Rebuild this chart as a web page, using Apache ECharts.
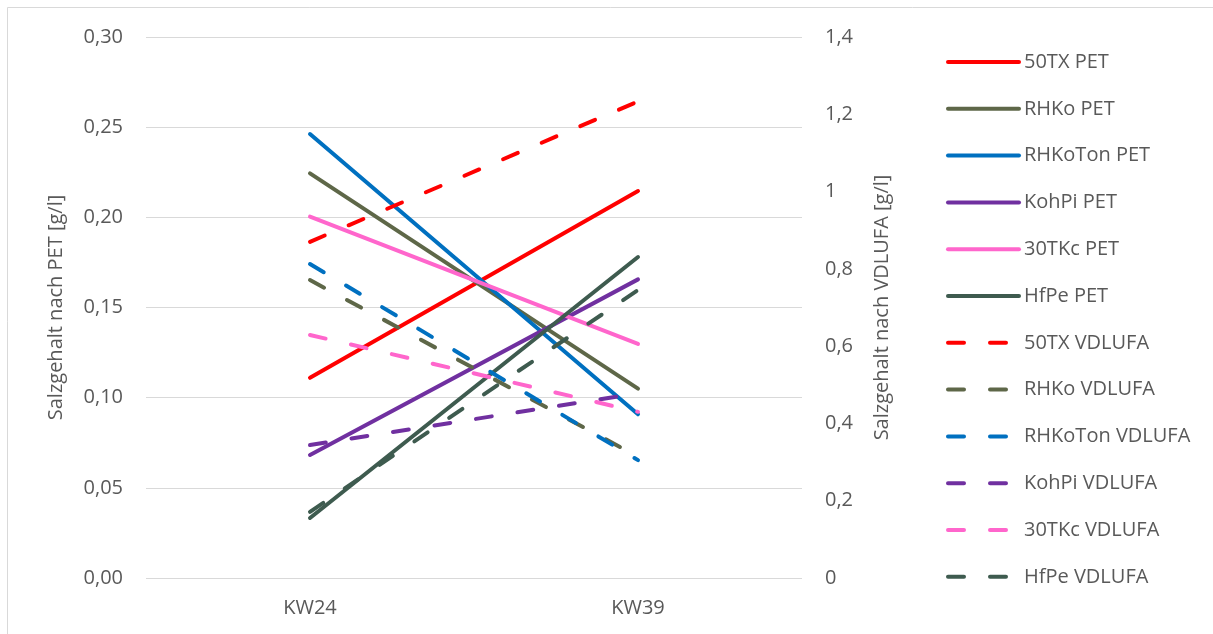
<!DOCTYPE html>
<html>
<head>
<meta charset="utf-8">
<script src="https://cdn.jsdelivr.net/npm/echarts@6/dist/echarts.min.js"></script>
<style>
html,body{margin:0;padding:0;background:#fff;}
#chart{width:1213px;height:634px;}
</style>
</head>
<body>
<div id="chart"></div>
<script>
var categories = ['KW24', 'KW39'];

var seriesNames = ['50TX PET', 'RHKo PET', 'RHKoTon PET', 'KohPi PET', '30TKc PET', 'HfPe PET',
  '50TX VDLUFA', 'RHKo VDLUFA', 'RHKoTon VDLUFA', 'KohPi VDLUFA', '30TKc VDLUFA', 'HfPe VDLUFA'];

// PET values (left axis, g/l)
var tx50PET = [0.111, 0.2146];
var rhkoPET = [0.2244, 0.105];
var rhkoTonPET = [0.2462, 0.0908];
var kohPiPET = [0.0682, 0.1656];
var tkc30PET = [0.2004, 0.1298];
var hfPePET = [0.0333, 0.178];

// VDLUFA values (right axis, g/l)
var tx50VDLUFA = [0.870, 1.233];
var rhkoVDLUFA = [0.771, 0.314];
var rhkoTonVDLUFA = [0.8126, 0.305];
var kohPiVDLUFA = [0.344, 0.478];
var tkc30VDLUFA = [0.629, 0.430];
var hfPeVDLUFA = [0.171, 0.745];

var colors = ['#FF0000', '#5E6748', '#0070C0', '#7030A0', '#FF66CC', '#3E5B4F'];

var allData = [tx50PET, rhkoPET, rhkoTonPET, kohPiPET, tkc30PET, hfPePET,
  tx50VDLUFA, rhkoVDLUFA, rhkoTonVDLUFA, kohPiVDLUFA, tkc30VDLUFA, hfPeVDLUFA];

var FONT = '"Open Sans", "Noto Sans", sans-serif';
var TXT = '#595959';

var series = allData.map(function (d, i) {
  var dashed = i >= 6;
  return {
    name: seriesNames[i],
    type: 'line',
    yAxisIndex: dashed ? 1 : 0,
    data: d,
    symbol: 'none',
    showSymbol: false,
    animation: false,
    lineStyle: {
      color: colors[i % 6],
      width: 4,
      cap: 'round',
      join: 'round',
      type: dashed ? [16, 26] : 'solid'
    },
    itemStyle: { color: colors[i % 6] }
  };
});

var chart = echarts.init(document.getElementById('chart'), null, { renderer: 'canvas' });
chart.setOption({
  animation: false,
  backgroundColor: '#ffffff',
  textStyle: { fontFamily: FONT },
  graphic: [{
    type: 'rect',
    shape: { x: 7.5, y: 7.5, width: 1400, height: 800 },
    style: { fill: 'none', stroke: '#D9D9D9', lineWidth: 1 },
    silent: true
  }],
  grid: { left: 146, right: 411, top: 37, bottom: 56 },
  legend: {
    orient: 'vertical',
    left: 946,
    top: 52,
    padding: 0,
    itemWidth: 71,
    itemHeight: 24,
    itemGap: 26.8,
    data: seriesNames,
    itemStyle: { opacity: 0 },
    lineStyle: { width: 4, cap: 'round' },
    textStyle: { fontFamily: FONT, fontSize: 20, color: TXT, padding: [0, 0, 0, 0] },
    selectedMode: false
  },
  xAxis: {
    type: 'category',
    data: categories,
    boundaryGap: true,
    axisLine: { show: false },
    axisTick: { show: false },
    axisLabel: { color: TXT, fontSize: 20, fontFamily: FONT, margin: 20 }
  },
  yAxis: [{
    type: 'value',
    min: 0,
    max: 0.30,
    interval: 0.05,
    name: 'Salzgehalt nach PET [g/l]',
    nameLocation: 'middle',
    nameGap: 80,
    nameTextStyle: { color: TXT, fontSize: 20, fontFamily: FONT },
    axisLine: { show: false },
    axisTick: { show: false },
    axisLabel: {
      color: TXT, fontSize: 20, fontFamily: FONT, margin: 23,
      formatter: function (v) { return v.toFixed(2).replace('.', ','); }
    },
    splitLine: { show: true, lineStyle: { color: '#D9D9D9', width: 1 } }
  }, {
    type: 'value',
    min: 0,
    max: 1.4,
    interval: 0.2,
    position: 'right',
    name: 'Salzgehalt nach VDLUFA [g/l]',
    nameLocation: 'middle',
    nameGap: 70,
    nameTextStyle: { color: TXT, fontSize: 20, fontFamily: FONT },
    axisLine: { show: false },
    axisTick: { show: false },
    axisLabel: {
      color: TXT, fontSize: 20, fontFamily: FONT, margin: 23,
      formatter: function (v) { return String(+v.toFixed(1)).replace('.', ','); }
    },
    splitLine: { show: false }
  }],
  series: series
});
</script>
</body>
</html>
